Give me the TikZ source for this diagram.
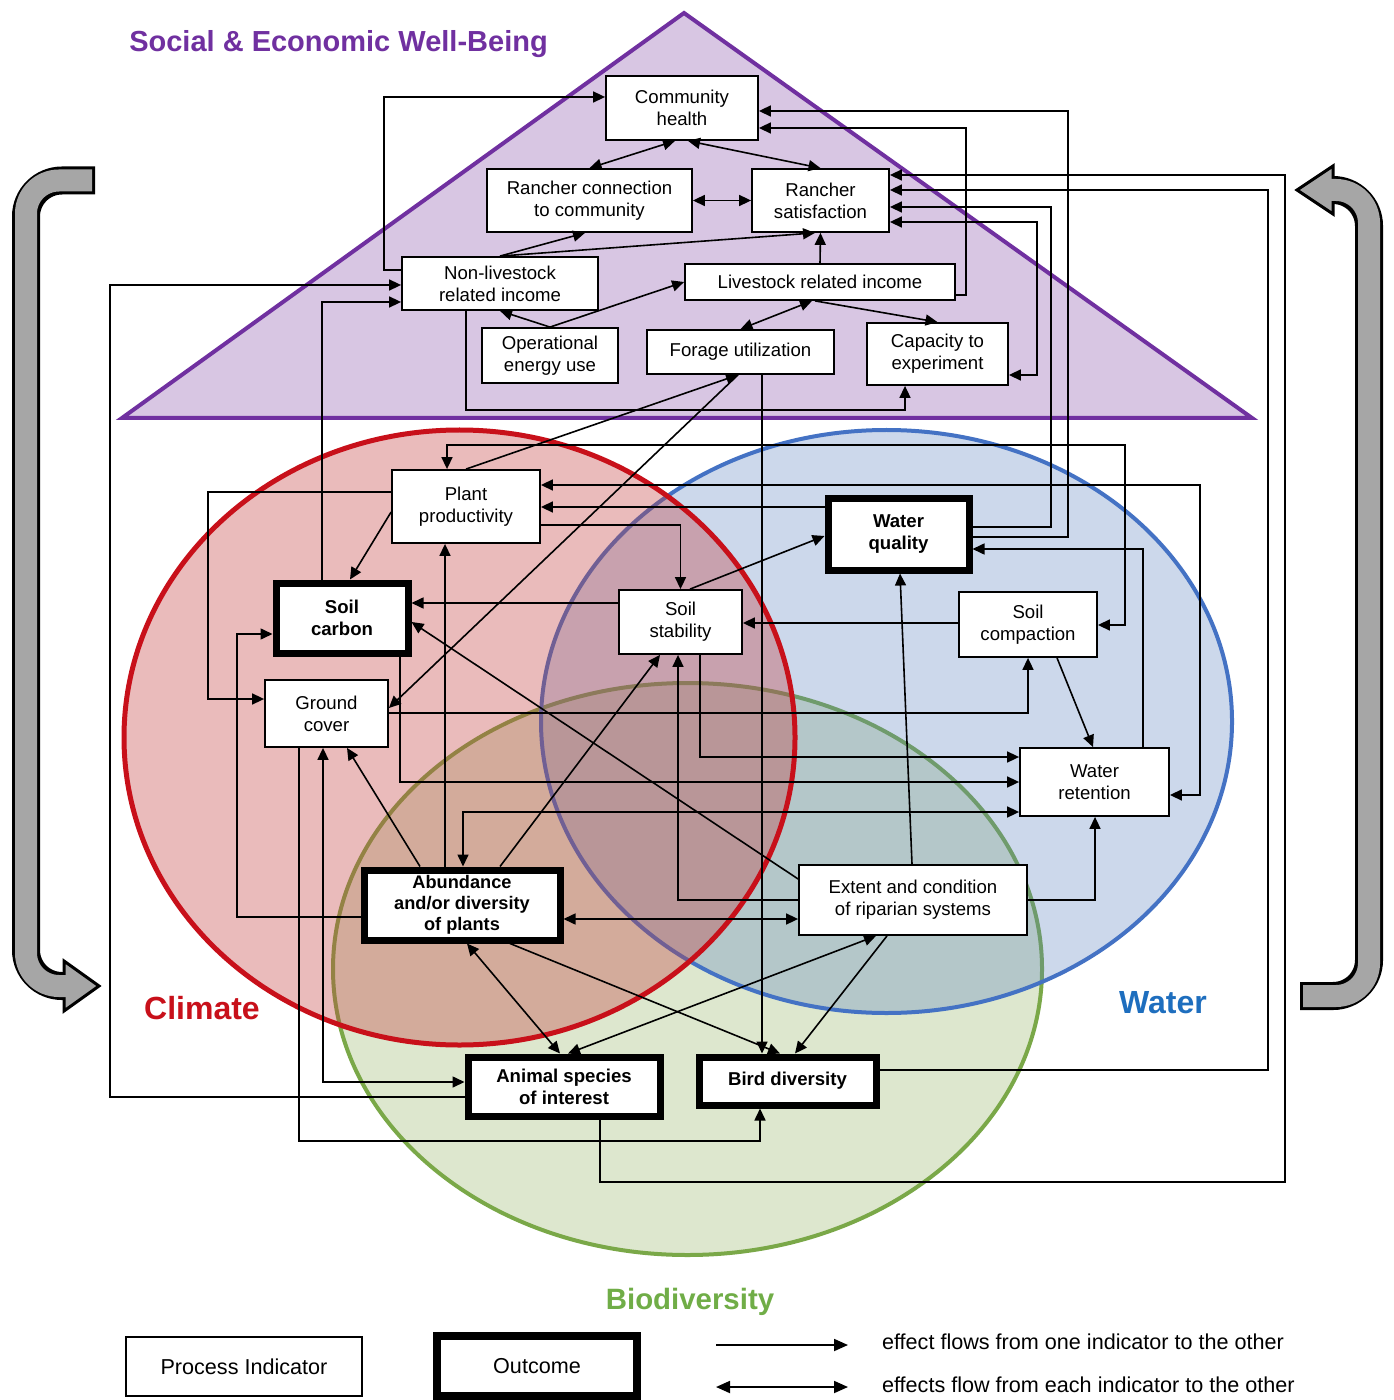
\documentclass[tikz,border=0pt]{standalone}
\usepackage{fontspec}
\setmainfont{Liberation Sans}
\usetikzlibrary{arrows.meta}
\definecolor{tripurple}{RGB}{112,48,160}
\definecolor{trifill}{RGB}{216,198,227}
\definecolor{redline}{RGB}{200,16,26}
\definecolor{redfill}{RGB}{195,61,61}
\definecolor{blueline}{RGB}{68,114,196}
\definecolor{bluefill}{RGB}{88,128,192}
\definecolor{greenline}{RGB}{122,168,72}
\definecolor{greenfill}{RGB}{145,178,95}
\definecolor{bgray}{RGB}{166,166,166}
\definecolor{watertxt}{RGB}{30,110,190}
\definecolor{biotxt}{RGB}{112,173,71}
\tikzset{
  proc/.style={draw, line width=0.9pt, fill=white, align=center, inner sep=1pt,
    font=\fontsize{9.3}{11}\selectfont},
  outc/.style={draw, line width=3.5pt, fill=white, align=center, inner sep=1pt,
    font=\bfseries\fontsize{9.3}{11}\selectfont},
  conn/.style={line width=0.8pt, -{Triangle[length=6pt,width=5.5pt]}},
  dconn/.style={line width=0.8pt, {Triangle[length=6pt,width=5.5pt]}-{Triangle[length=6pt,width=5.5pt]}},
  lconn/.style={line width=0.9pt, -{Triangle[length=7pt,width=6pt]}},
  ldconn/.style={line width=0.9pt, {Triangle[length=7pt,width=6pt]}-{Triangle[length=7pt,width=6pt]}},
  areatitle/.style={font=\bfseries\fontsize{16}{18}\selectfont},
  legtext/.style={anchor=west, font=\fontsize{10.8}{13}\selectfont},
}
\begin{document}
\begin{tikzpicture}[x=0.5pt,y=-0.5pt]
\useasboundingbox[fill=white] (0,0) rectangle (1393,1400);

% social triangle
\draw[line width=2pt, draw=tripurple, fill=trifill, line join=miter] (684,13) -- (1252,418) -- (122,418) -- cycle;

% circles
\draw[line width=2pt, draw=greenline, fill=greenfill, fill opacity=0.3] (687.5,969) ellipse [x radius=177.25pt, y radius=143pt];
\draw[line width=2pt, draw=blueline, fill=bluefill, fill opacity=0.3] (886.5,721.5) ellipse [x radius=172.75pt, y radius=145.75pt];
\draw[line width=2.5pt, draw=redline, fill=redfill, fill opacity=0.35] (459.5,737.5) ellipse [x radius=167.75pt, y radius=153.75pt];

% grey cycle brackets
\draw[line width=14pt, black, rounded corners=18pt] (95,180.5) -- (26,180.5) -- (26,986) -- (66,986);
\draw[line width=1.5pt, fill=bgray, line join=miter] (64,961) -- (99,986) -- (64,1011) -- cycle;
\draw[line width=11pt, bgray, rounded corners=16.5pt] (92,180.5) -- (26,180.5) -- (26,986) -- (68,986);

\draw[line width=14pt, black, rounded corners=18pt] (1331,190) -- (1369,190) -- (1369,996) -- (1300,996);
\draw[line width=1.5pt, fill=bgray, line join=miter] (1333,166) -- (1297,190) -- (1333,214) -- cycle;
\draw[line width=11pt, bgray, rounded corners=16.5pt] (1329,190) -- (1369,190) -- (1369,996) -- (1303,996);

% titles
\node[font=\bfseries\fontsize{14.5}{17}\selectfont, text=tripurple] (ttl) at (338.5,44) {Social \& Economic Well-Being};
\node[areatitle, text=redline] (tclim) at (202,1008) {Climate};
\node[areatitle, text=watertxt] (twat) at (1163,1003) {Water};
\node[font=\bfseries\fontsize{14.7}{17}\selectfont, text=biotxt] (tbio) at (690,1302) {Biodiversity};

% nodes
\node[proc, minimum width=76pt, minimum height=32pt] (ch) at (682,108) {Community\\health};
\node[proc, minimum width=102.5pt, minimum height=31.5pt] (rc) at (589.5,200.5) {Rancher connection\\to community};
\node[proc, minimum width=68.5pt, minimum height=31.5pt] (rs) at (820.5,200.5) {Rancher\\satisfaction};
\node[proc, minimum width=98pt, minimum height=26.5pt] (nl) at (500,283.5) {Non-livestock\\related income};
\node[proc, minimum width=135pt, minimum height=18pt] (li) at (820,282) {Livestock related income};
\node[proc, minimum width=68pt, minimum height=27.5pt] (oe) at (550,355.5) {Operational\\energy use};
\node[proc, minimum width=93.5pt, minimum height=22pt] (fu) at (740.5,352) {Forage utilization};
\node[proc, minimum width=70.5pt, minimum height=31pt] (ce) at (937.5,354) {Capacity to\\experiment};
\node[proc, minimum width=74pt, minimum height=36.5pt] (pp) at (466,506.5) {Plant\\productivity};
\node[outc, minimum width=66pt, minimum height=35pt] (sc) at (342,618) {Soil\\carbon};
\node[proc, minimum width=61.5pt, minimum height=32pt] (ss) at (680.5,622) {Soil\\stability};
\node[outc, minimum width=70.5pt, minimum height=35.5pt] (wq) at (898.5,534.5) {Water\\quality};
\node[proc, minimum width=69pt, minimum height=32.5pt] (sp) at (1028,624.5) {Soil\\compaction};
\node[proc, minimum width=61.5pt, minimum height=33.5pt] (gc) at (326.5,713.5) {Ground\\cover};
\node[proc, minimum width=74.5pt, minimum height=34pt] (wr) at (1094.5,782) {Water\\retention};
\node[outc, minimum width=98pt, minimum height=35pt, inner sep=0pt,
  font=\bfseries\fontsize{9.1}{10.4}\selectfont] (ab) at (462,905) {Abundance\\and/or diversity\\of plants};
\node[proc, minimum width=114pt, minimum height=35pt] (er) at (913,900) {Extent and condition\\of riparian systems};
\node[outc, minimum width=96pt, minimum height=29.5pt] (as) at (564,1086.5) {Animal species\\of interest};
\node[outc, minimum width=88.5pt, minimum height=24pt] (bd) at (787.5,1081) {Bird diversity};

% social connectors
\draw[dconn] (ch.south -| 675,0) -- (rc.north);
\draw[dconn] (ch.south -| 688,0) -- (rs.north);
\draw[dconn] (rc.east) -- (rs.west);
\draw[conn] (nl.north) -- (rc.south -| 585,0);
\draw[conn] (nl.north) -- (rs.south -| 815,0);
\draw[conn] (li.north) -- (rs.south);
\draw[conn] (oe.north) -- (nl.south);
\draw[conn] (oe.north) -- (li.west);
\draw[dconn] (fu.north) -- (li.south -| 812,0);
\draw[conn] (li.south -| 815,0) -- (ce.north);
\draw[conn] (nl.south -| 466,0) |- (905,410) -- (ce.south -| 905,0);
\draw[conn] (nl.west |- 0,270) -| (384,97) -- (ch.west |- 0,97);
\draw[conn] (li.east |- 0,295) -| (966,128) -- (ch.east |- 0,128);
\draw[conn] (wq.east |- 0,537) -| (1068,111) -- (ch.east |- 0,111);
\draw[conn] (wq.east |- 0,527) -| (1051,207) -- (rs.east |- 0,207);
\draw[dconn] (rs.east |- 0,222) -| (1037,375) -- (ce.east |- 0,375);
\draw[conn] (as.south -| 600,0) |- (1285,1182) -- (1285,175) -- (rs.east |- 0,175);
\draw[conn] (bd.east |- 0,1070) -| (1268,190) -- (rs.east |- 0,190);

% left side
\draw[conn] (as.west |- 0,1097) -| (110,285) -- (nl.west |- 0,285);
\draw[conn] (sc.north -| 322,0) |- (nl.west |- 0,302);
\draw[conn] (ab.west |- 0,917) -| (237,634) -- (sc.west |- 0,634);
\draw[conn] (pp.west |- 0,492) -| (208,699) -- (gc.west |- 0,699);
\draw[conn] (gc.south -| 299,0) |- (760,1141) -- (bd.south -| 760,0);
\draw[dconn] (gc.south -| 323,0) |- (as.west |- 0,1082);
\draw[conn] (ab.north -| 420,0) -- (gc.south -| 347,0);
\draw[conn] (ab.north -| 445,0) -- (pp.south -| 445,0);
\draw[conn] (ab.north -| 500,0) -- (ss.south -| 660,0);
\draw[conn] (pp.north) -- (fu.south -| 738,0);
\draw[conn] (fu.south -| 738,0) -- (gc.east |- 0,708);
\draw[conn] (fu.south -| 762,0) -- (bd.north -| 762,0);

% middle / right
\draw[dconn] (pp.north -| 447,0) |- (1125,445) -- (1125,625) -- (sp.east |- 0,625);
\draw[dconn] (pp.east |- 0,485) -| (1200,795) -- (wr.east |- 0,795);
\draw[conn] (wq.west |- 0,507) -- (pp.east |- 0,507);
\draw[conn] (pp.east |- 0,525) -| (ss.north);
\draw[conn] (pp.west |- 0,512) -- (sc.north -| 350,0);
\draw[conn] (ss.west |- 0,603) -- (sc.east |- 0,603);
\draw[conn] (ss.north -| 690,0) -- (wq.west |- 0,536);
\draw[conn] (sp.west |- 0,623) -- (ss.east |- 0,623);
\draw[conn] (sp.south -| 1057,0) -- (wr.north -| 1093,0);
\draw[conn] (gc.east |- 0,713) -| (sp.south);
\draw[conn] (ss.south -| 700,0) |- (wr.west |- 0,757);
\draw[conn] (sc.south -| 400,0) |- (wr.west |- 0,782);
\draw[dconn] (ab.north -| 463,0) |- (wr.west |- 0,812);
\draw[conn] (er.west |- 0,900) -| (ss.south -| 678,0);
\draw[conn] (er.west |- 0,879) -- (sc.east |- 0,622);
\draw[conn] (er.north -| 912,0) -- (wq.south -| 900,0);
\draw[conn] (er.east |- 0,900) -| (wr.south -| 1095,0);
\draw[dconn] (ab.east |- 0,919) -- (er.west |- 0,919);
\draw[dconn] (ab.south -| 467,0) -- (as.north -| 560,0);
\draw[conn] (ab.south -| 510,0) -- (bd.north -| 780,0);
\draw[dconn] (er.south -| 876,0) -- (as.north -| 568,0);
\draw[conn] (er.south -| 887,0) -- (bd.north -| 795,0);
\draw[conn] (wr.north -| 1143,0) |- (wq.east |- 0,549);

% legend
\node[proc, minimum width=118pt, minimum height=29.5pt, font=\fontsize{10.8}{13}\selectfont] (lp) at (244,1366.5) {Process Indicator};
\node[draw, line width=4pt, fill=white, minimum width=100pt, minimum height=30pt, font=\fontsize{10.8}{13}\selectfont] (lo) at (537,1366) {Outcome};
\coordinate (l1a) at (716,1345);
\coordinate (l1b) at (848,1345);
\coordinate (l2a) at (716,1387);
\coordinate (l2b) at (848,1387);
\draw[lconn] (l1a) -- (l1b);
\draw[ldconn] (l2a) -- (l2b);
\node[legtext] (lt1) at (875,1342) {effect flows from one indicator to the other};
\node[legtext] (lt2) at (875,1385) {effects flow from each indicator to the other};
\end{tikzpicture}
\end{document}
